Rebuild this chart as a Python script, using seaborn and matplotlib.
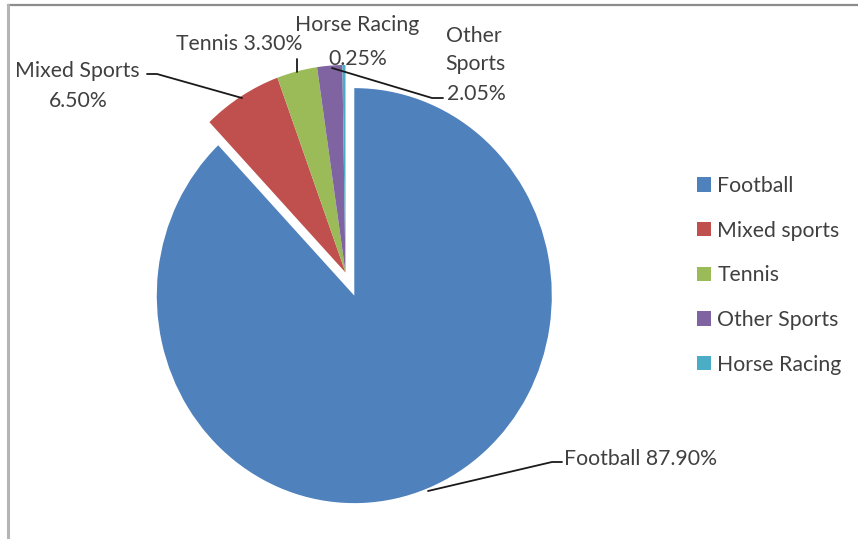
import matplotlib
matplotlib.use("Agg")
import matplotlib.pyplot as plt
from matplotlib.lines import Line2D
import seaborn as sns

# Share of betting turnover by sport
sports = ["Football", "Mixed sports", "Tennis", "Other Sports", "Horse Racing"]
shares = [87.90, 6.50, 3.30, 2.05, 0.25]
slice_colors = ["#4F81BD", "#C0504D", "#9BBB59", "#8064A2", "#4BACC6"]

sns.set_theme(style="white")
plt.rcParams["font.family"] = ["Lato", "DejaVu Sans"]
TEXT = "#404040"
FS = 15.3

W, H = 858, 539
fig = plt.figure(figsize=(W / 100, H / 100), dpi=100)
fig.patch.set_facecolor("white")


def fp(x, y):
    """Pixel position (from top-left) to figure fraction."""
    return x / W, 1 - y / H


# pie drawn in a pixel-scaled data space; the ellipse is slightly taller than wide
ky = 207.5 / 197.5
R = 197.5
ax = fig.add_axes([0, 0, 1, 1])
palette = sns.color_palette(slice_colors)
wedges, _ = ax.pie(
    shares,
    colors=palette,
    startangle=90,
    counterclock=False,
    explode=[0.12 * R, 0, 0, 0, 0],
    radius=R,
    center=(345.5, (H - 272.5) / ky),
    wedgeprops=dict(linewidth=0),
)
ax.set_aspect("auto")
ax.set_xlim(0, W)
ax.set_ylim(0, H / ky)
ax.axis("off")

# chart frame (top and left edges)
fig.add_artist(Line2D([fp(8, 5)[0], 1], [fp(8, 5)[1]] * 2, transform=fig.transFigure,
                      color="#8c8c8c", lw=1.6))
fig.add_artist(Line2D([fp(8, 5)[0]] * 2, [fp(8, 5)[1], 0], transform=fig.transFigure,
                      color="#b5b5b5", lw=2.2))


def label(x, y_base, s):
    fig.text(*fp(x, y_base), s, ha="center", va="baseline", fontsize=FS, color=TEXT)


def leader(pts):
    xs = [fp(x, y)[0] for x, y in pts]
    ys = [fp(x, y)[1] for x, y in pts]
    fig.add_artist(Line2D(xs, ys, transform=fig.transFigure, color="#1a1a1a", lw=1.3))


val = dict(zip(sports, shares))

# data labels
label(77, 77, "Mixed Sports")
label(78, 107, f"{val['Mixed sports']:.2f}%")
leader([(147, 74), (157, 74), (242, 98)])

label(239, 50, f"Tennis {val['Tennis']:.2f}%")
leader([(297, 59), (297, 72)])

label(357, 31, "Horse Racing")
label(358, 65, f"{val['Horse Racing']:.2f}%")

label(474, 42, "Other")
label(475, 70, "Sports")
label(476, 100, f"{val['Other Sports']:.2f}%")
leader([(332, 68), (432, 98), (443, 98)])

fig.text(*fp(564, 465), f"Football {val['Football']:.2f}%", ha="left", va="baseline",
         fontsize=FS, color=TEXT)
leader([(428, 491), (552, 462), (562, 462)])

# legend
leg = fig.legend(
    wedges, sports,
    loc="upper left", bbox_to_anchor=fp(697, 176),
    frameon=False, fontsize=FS, labelcolor=TEXT,
    handlelength=0.65, handleheight=0.65, handletextpad=0.3,
    labelspacing=1.16, borderpad=0, borderaxespad=0,
)

fig.savefig("out.png", dpi=100)
